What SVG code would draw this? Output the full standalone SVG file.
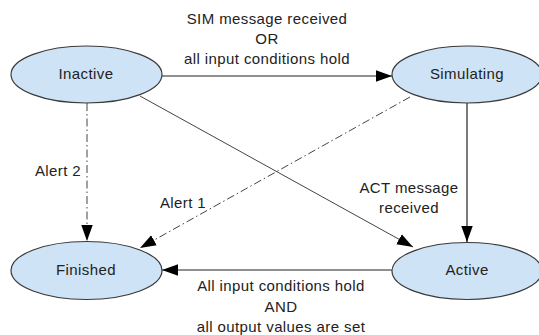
<svg xmlns="http://www.w3.org/2000/svg" width="539" height="335" viewBox="0 0 539 335">
<defs>
<style>
.node ellipse{fill:#cfe3f6;stroke:#3a3a3a;stroke-width:1.2}
text{font-family:"Liberation Sans",Arial,sans-serif;font-size:15px;fill:#222;letter-spacing:0.4px}
.ntext{text-anchor:middle}
.lbl{text-anchor:middle}
.edge{fill:none;stroke:#222;stroke-width:1.2}
.thin{stroke:#444;stroke-width:1}
.dash{stroke:#444;stroke-width:1;stroke-dasharray:8,3,1.5,3}
</style>
<marker id="arr" markerUnits="userSpaceOnUse" markerWidth="16" markerHeight="12" viewBox="0 0 14 10" refX="14" refY="5" orient="auto">
<path d="M0,0 L14,5 L0,10 Z" fill="#000"/>
</marker>
</defs>
<g id="connectors">
<line class="edge" x1="162" y1="76" x2="392" y2="76" marker-end="url(#arr)"/>
<line class="edge" x1="392" y1="270" x2="162" y2="270" marker-end="url(#arr)"/>
<line class="edge" x1="467" y1="103" x2="467" y2="242" marker-end="url(#arr)"/>
<line class="edge thin" x1="140" y1="96" x2="413" y2="247" marker-end="url(#arr)"/>
<line class="edge dash" x1="87" y1="103" x2="87" y2="241" marker-end="url(#arr)"/>
<line class="edge dash" x1="410" y1="97" x2="140" y2="248" marker-end="url(#arr)"/>
<text class="lbl" x="267" y="24">SIM message received</text>
<text class="lbl" x="267" y="44">OR</text>
<text class="lbl" x="267" y="64">all input conditions hold</text>
<text class="lbl" x="281" y="291">All input conditions hold</text>
<text class="lbl" x="281" y="312">AND</text>
<text class="lbl" x="281" y="332">all output values are set</text>
<text class="lbl" x="409" y="193">ACT message</text>
<text class="lbl" x="409" y="213">received</text>
<text class="lbl" x="58" y="176">Alert 2</text>
<text class="lbl" x="183" y="208">Alert 1</text>
</g>
<g id="inactive" class="node">
<ellipse cx="86.5" cy="74.5" rx="75.5" ry="28.5"/>
<text class="ntext" x="86" y="79">Inactive</text>
</g>
<g id="simulating" class="node">
<ellipse cx="467" cy="74.5" rx="75" ry="28.5"/>
<text class="ntext" x="467" y="79">Simulating</text>
</g>
<g id="finished" class="node">
<ellipse cx="86.5" cy="270.5" rx="75.5" ry="29"/>
<text class="ntext" x="86" y="275">Finished</text>
</g>
<g id="active" class="node">
<ellipse cx="467" cy="271" rx="75" ry="28.5"/>
<text class="ntext" x="467" y="275">Active</text>
</g>
</svg>
